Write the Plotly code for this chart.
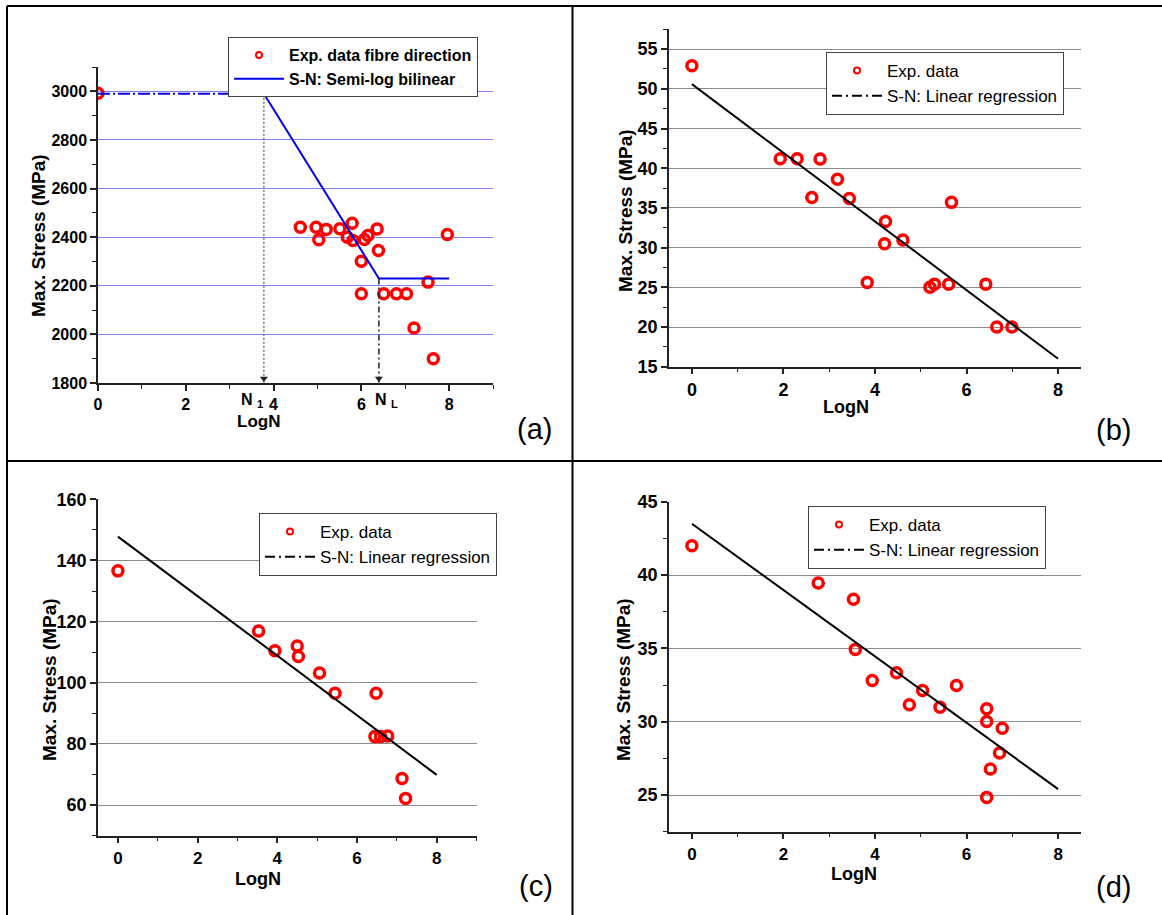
import plotly.graph_objects as go

W, H = 1162, 915

# ---------------- data ----------------
# (a) fibre direction
a_logn = [0.0, 4.61, 4.97, 5.03, 5.20, 5.51, 5.68, 5.79, 5.81, 6.07, 6.15, 6.36, 6.39,
          6.00, 6.00, 6.51, 6.80, 7.03, 7.52, 7.20, 7.64, 7.96]
a_stress = [2992, 2441, 2441, 2389, 2432, 2435, 2400, 2457, 2386, 2390, 2407, 2434, 2345,
            2301, 2167, 2167, 2167, 2167, 2215, 2026, 1900, 2411]
a_flat_x = [0.0, 3.78]
a_flat_y = [2990, 2990]
a_sn_x = [3.78, 6.40, 8.0]
a_sn_y = [2990, 2230, 2230]
N1 = 3.78
NL = 6.40
a_n1_y = [2990, 1800]
a_nl_y = [2230, 1800]

# (b)
b_logn = [0.0, 1.93, 2.30, 2.80, 3.18, 2.62, 3.44, 4.23, 4.21, 4.61, 3.83, 5.20, 5.30,
          5.61, 5.67, 6.42, 6.66, 6.99]
b_stress = [52.9, 41.2, 41.2, 41.15, 38.6, 36.3, 36.2, 33.3, 30.5, 30.95, 25.6, 25.0, 25.4,
            25.4, 35.7, 25.4, 20.0, 20.0]
b_fit_x = [0.0, 8.0]
b_fit_y = [50.6, 16.0]

# (c)
c_logn = [0.0, 3.53, 3.94, 4.50, 4.53, 5.06, 5.45, 6.48, 6.45, 6.59, 6.77, 7.13, 7.22]
c_stress = [136.6, 116.9, 110.5, 112.0, 108.6, 103.2, 96.6, 96.6, 82.4, 82.4, 82.6, 68.7, 62.2]
c_fit_x = [0.0, 8.0]
c_fit_y = [147.8, 69.9]

# (d)
d_logn = [0.0, 2.76, 3.53, 3.57, 3.94, 4.47, 4.75, 5.04, 5.42, 5.78, 6.44, 6.44, 6.78,
          6.72, 6.52, 6.44]
d_stress = [42.0, 39.46, 38.35, 34.93, 32.81, 33.34, 31.15, 32.13, 30.99, 32.47, 30.88,
            30.01, 29.56, 27.87, 26.78, 24.84]
d_fit_x = [0.0, 8.0]
d_fit_y = [43.5, 25.4]

x_ticks = [0, 2, 4, 6, 8]
a_yticks = [1800, 2000, 2200, 2400, 2600, 2800, 3000]
b_yticks = [15, 20, 25, 30, 35, 40, 45, 50, 55]
c_yticks = [60, 80, 100, 120, 140, 160]
d_yticks = [25, 30, 35, 40, 45]

# ---------------- helpers ----------------
def px(x):
    return x / W

def py(y):
    return 1 - y / H

FONT = "Liberation Sans, Arial, sans-serif"
RED = "#ff0000"

fig = go.Figure()

def pts(x, y, xa, ya, legend, name, size=10):
    fig.add_trace(go.Scatter(x=x, y=y, mode="markers", xaxis=xa, yaxis=ya,
                             marker=dict(symbol="circle-open", size=size, color=RED,
                                         line=dict(width=3.5, color=RED)),
                             showlegend=False, legend=legend, name=name))
    # legend entry (small marker, as in the reference legend)
    fig.add_trace(go.Scatter(x=[None], y=[None], mode="markers", xaxis=xa, yaxis=ya,
                             marker=dict(symbol="circle-open", size=6, color=RED,
                                         line=dict(width=2, color=RED)),
                             showlegend=True, legend=legend, name=name))

# (a)
pts(a_logn, a_stress, "x", "y", "legend", "Exp. data fibre direction")
fig.add_trace(go.Scatter(x=a_flat_x, y=a_flat_y, mode="lines", xaxis="x", yaxis="y",
                         line=dict(color="#0000ee", width=2, dash="12px,3px,2px,3px"),
                         showlegend=False))
fig.add_trace(go.Scatter(x=a_sn_x, y=a_sn_y, mode="lines", xaxis="x", yaxis="y",
                         line=dict(color="#0000ee", width=2),
                         showlegend=True, legend="legend", name="S-N: Semi-log bilinear"))
fig.add_trace(go.Scatter(x=[N1, N1], y=a_n1_y, mode="lines", xaxis="x", yaxis="y",
                         line=dict(color="#555555", width=1.2, dash="2px,2px"),
                         showlegend=False))
fig.add_trace(go.Scatter(x=[NL, NL], y=a_nl_y, mode="lines", xaxis="x", yaxis="y",
                         line=dict(color="#222222", width=1.5, dash="6px,3px,2px,3px"),
                         showlegend=False))
fig.add_trace(go.Scatter(x=[N1, NL], y=[a_n1_y[1] + 18, a_nl_y[1] + 18], mode="markers",
                         xaxis="x", yaxis="y",
                         marker=dict(symbol="triangle-down", size=7, color="#222222"),
                         showlegend=False, cliponaxis=False))

# (b)
pts(b_logn, b_stress, "x2", "y2", "legend2", "Exp. data")
fig.add_trace(go.Scatter(x=b_fit_x, y=b_fit_y, mode="lines", xaxis="x2", yaxis="y2",
                         line=dict(color="black", width=2), showlegend=False))
fig.add_trace(go.Scatter(x=[None], y=[None], mode="lines", xaxis="x2", yaxis="y2",
                         line=dict(color="black", width=2, dash="10px,4px,2px,4px"),
                         showlegend=True, legend="legend2", name="S-N: Linear regression"))
# (c)
pts(c_logn, c_stress, "x3", "y3", "legend3", "Exp. data")
fig.add_trace(go.Scatter(x=c_fit_x, y=c_fit_y, mode="lines", xaxis="x3", yaxis="y3",
                         line=dict(color="black", width=2), showlegend=False))
fig.add_trace(go.Scatter(x=[None], y=[None], mode="lines", xaxis="x3", yaxis="y3",
                         line=dict(color="black", width=2, dash="10px,4px,2px,4px"),
                         showlegend=True, legend="legend3", name="S-N: Linear regression"))
# (d)
pts(d_logn, d_stress, "x4", "y4", "legend4", "Exp. data")
fig.add_trace(go.Scatter(x=d_fit_x, y=d_fit_y, mode="lines", xaxis="x4", yaxis="y4",
                         line=dict(color="black", width=2), showlegend=False))
fig.add_trace(go.Scatter(x=[None], y=[None], mode="lines", xaxis="x4", yaxis="y4",
                         line=dict(color="black", width=2, dash="10px,4px,2px,4px"),
                         showlegend=True, legend="legend4", name="S-N: Linear regression"))

# ---------------- axes ----------------
def xaxis(dom, rng, size, anchor):
    return dict(domain=[px(dom[0]), px(dom[1])], range=rng, anchor=anchor,
                tickvals=x_ticks, showgrid=False, zeroline=False, automargin=False,
                showline=True, linecolor="#222222", linewidth=1.5,
                ticks="outside", ticklen=6, tickwidth=1.5, tickcolor="#222222",
                minor=dict(ticks="outside", ticklen=4, tickwidth=1.2, dtick=1, tick0=0,
                           tickcolor="#222222", showgrid=False),
                tickfont=dict(family=FONT, size=size, color="black", weight="bold"),
                fixedrange=True)

def yaxis(dom, rng, tv, minor, gridcolor, size, anchor):
    return dict(domain=[py(dom[1]), py(dom[0])], range=rng, anchor=anchor,
                tickvals=tv, showgrid=True, gridcolor=gridcolor, gridwidth=1,
                zeroline=False, automargin=False,
                showline=True, linecolor="#222222", linewidth=1.5,
                ticks="outside", ticklen=6, tickwidth=1.5, tickcolor="#222222",
                minor=dict(ticks="outside", ticklen=4, tickwidth=1.2, dtick=minor,
                           tick0=tv[0], tickcolor="#222222", showgrid=False),
                tickfont=dict(family=FONT, size=size, color="black", weight="bold"),
                fixedrange=True)

fig.update_layout(
    template="none",
    xaxis=xaxis((98, 493), [0, 9], 16, "y"),
    yaxis=yaxis((67, 383), [1800, 3100], a_yticks, 100, "#8080f0", 16, "x"),
    xaxis2=xaxis((669, 1081), [-0.5, 8.5], 18, "y2"),
    yaxis2=yaxis((29.3, 366.7), [15, 57.5], b_yticks, 2.5, "#8c8c8c", 18, "x2"),
    xaxis3=xaxis((98, 476.5), [-0.5, 9], 17, "y3"),
    yaxis3=yaxis((499.3, 835.7), [50, 160], c_yticks, 10, "#8c8c8c", 18, "x3"),
    xaxis4=xaxis((669, 1081), [-0.5, 8.5], 17, "y4"),
    yaxis4=yaxis((501.7, 831.7), [22.5, 45], d_yticks, 2.5, "#8c8c8c", 18, "x4"),
)

def legend(x, y, size, weight):
    return dict(x=px(x), y=py(y), xanchor="left", yanchor="top",
                bgcolor="white", bordercolor="#444444", borderwidth=1,
                font=dict(family=FONT, size=size, color="black", weight=weight),
                itemwidth=50, tracegroupgap=0)

fig.update_layout(
    legend=legend(228, 37, 16, "bold"),
    legend2=legend(826, 52, 17, "normal"),
    legend3=legend(259, 513, 17, "normal"),
    legend4=legend(808, 506, 17, "normal"),
)

# ---------------- annotations ----------------
ann = []
def text(x, y, s, size, weight="bold", angle=0, xanchor="center"):
    ann.append(dict(x=px(x), y=py(y), xref="paper", yref="paper", text=s,
                    showarrow=False, textangle=angle, xanchor=xanchor, yanchor="middle",
                    font=dict(family=FONT, size=size, color="black", weight=weight)))

# axis titles
text(258, 421, "LogN", 17)
text(39, 236, "Max. Stress (MPa)", 19, angle=-90)
text(846, 407, "LogN", 18)
text(626, 211, "Max. Stress (MPa)", 19, angle=-90)
text(258, 879, "LogN", 18)
text(49, 680, "Max. Stress (MPa)", 19, angle=-90)
text(854, 874, "LogN", 18)
text(623, 680, "Max. Stress (MPa)", 19, angle=-90)
# N1 / NL markers on the (a) x axis
text(265, 400, "N <sub>1</sub>", 16, xanchor="right")
text(373, 400, "N <sub>L</sub>", 16, xanchor="left")
# panel letters
text(534, 429, "(a)", 29, weight="normal")
text(1113, 430, "(b)", 29, weight="normal")
text(536, 886, "(c)", 29, weight="normal")
text(1113, 887, "(d)", 29, weight="normal")

# panel frame lines
shapes = []
def line(x0, y0, x1, y1):
    shapes.append(dict(type="line", xref="paper", yref="paper",
                       x0=px(x0), y0=py(y0), x1=px(x1), y1=py(y1),
                       line=dict(color="black", width=2)))
line(7, 6, 1162, 6)
line(7, 6, 7, 915)
line(572.5, 6, 572.5, 915)
line(7, 461, 1162, 461)

fig.update_layout(annotations=ann, shapes=shapes,
                  width=W, height=H, autosize=False,
                  margin=dict(l=0, r=0, t=0, b=0, pad=0),
                  paper_bgcolor="white", plot_bgcolor="white",
                  font=dict(family=FONT, color="black"))

post = ("document.documentElement.style.margin='0';document.documentElement.style.padding='0';"
        "document.body.style.margin='0';document.body.style.padding='0';"
        "document.documentElement.style.overflow='hidden';document.body.style.overflow='hidden';")
fig.write_html("out.html", post_script=post, config={"displayModeBar": False})
